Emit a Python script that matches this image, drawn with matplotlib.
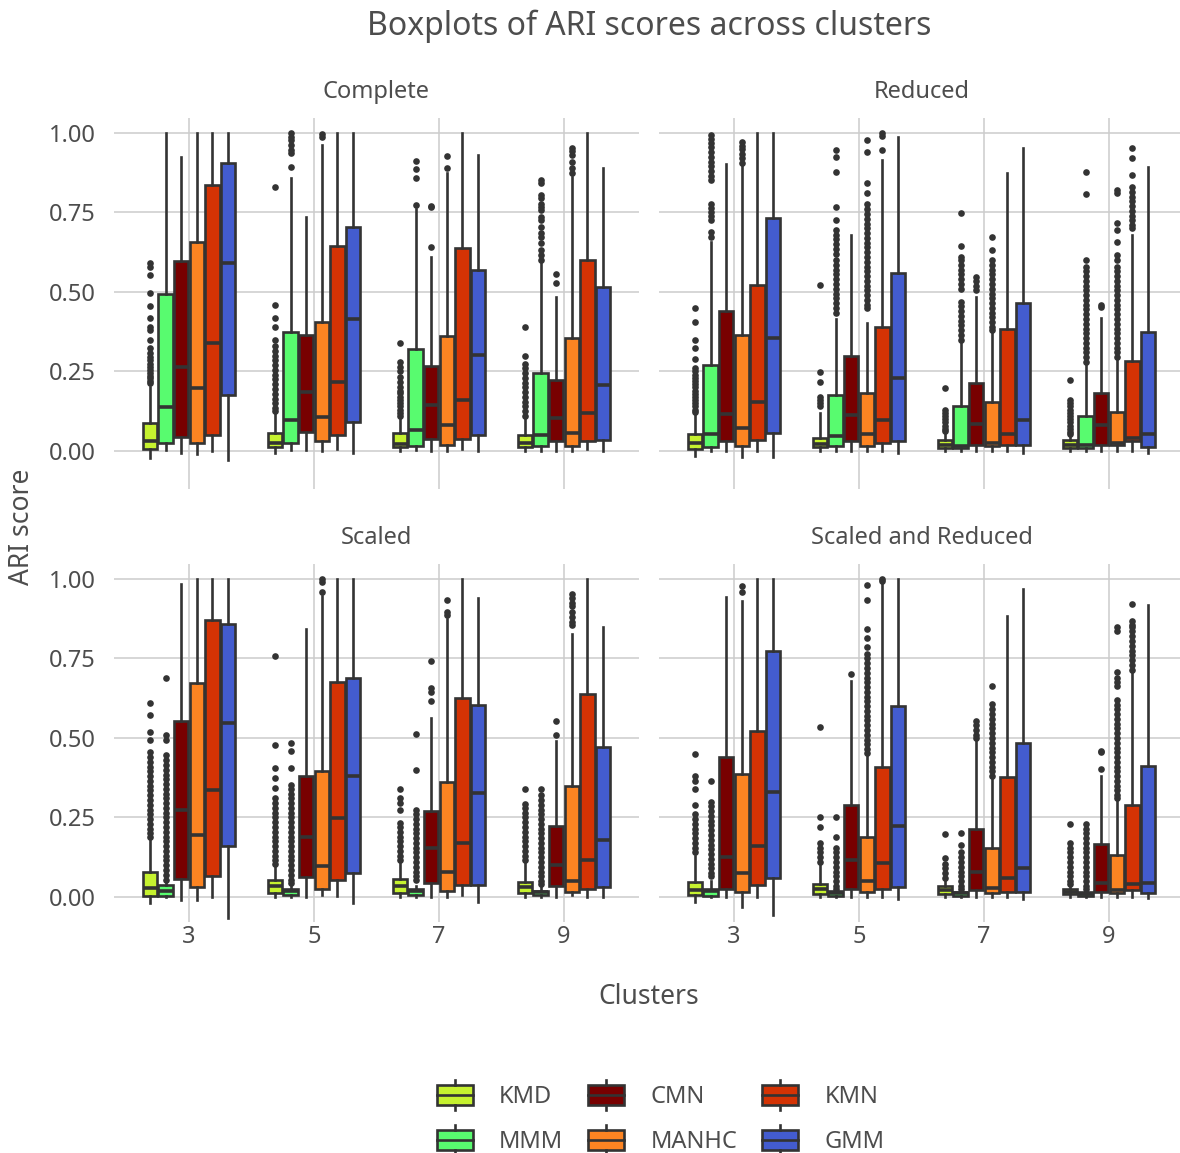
import matplotlib.pyplot as plt
from matplotlib.legend_handler import HandlerBase
from matplotlib.patches import Patch, Rectangle
from matplotlib.lines import Line2D

plt.rcParams["font.family"] = ["Noto Sans", "DejaVu Sans"]

# ==== data ====
clusters = ["3", "5", "7", "9"]
methods = ["KMD", "MMM", "CMN", "MANHC", "KMN", "GMM"]
method_colors = ["#C6F22F", "#58FB6F", "#780000", "#FC8422", "#D43304", "#435CCF"]
panel_titles = ["Complete", "Reduced", "Scaled", "Scaled and Reduced"]

# rows follow `methods`, columns follow `clusters`
complete_q1 = [[0.006, 0.012, 0.012, 0.012], [0.026, 0.026, 0.016, 0.015], [0.043, 0.061, 0.037, 0.030],
               [0.026, 0.030, 0.020, 0.016], [0.050, 0.050, 0.037, 0.030], [0.176, 0.090, 0.050, 0.035]]
complete_med = [[0.031, 0.025, 0.022, 0.025], [0.139, 0.097, 0.066, 0.050], [0.265, 0.187, 0.145, 0.105],
                [0.197, 0.108, 0.082, 0.056], [0.339, 0.218, 0.160, 0.119], [0.592, 0.415, 0.302, 0.208]]
complete_q3 = [[0.087, 0.056, 0.056, 0.050], [0.494, 0.373, 0.321, 0.244], [0.598, 0.366, 0.268, 0.223],
               [0.656, 0.407, 0.363, 0.354], [0.836, 0.643, 0.637, 0.601], [0.907, 0.703, 0.569, 0.517]]
complete_lo = [[-0.021, -0.005, 0.0, 0.0], [0.003, 0.003, 0.003, 0.0], [-0.007, 0.003, 0.0, 0.0],
               [-0.009, 0.0, 0.0, 0.0], [0.0, 0.006, 0.006, 0.006], [-0.028, -0.007, 0.0, 0.0]]
complete_hi = [[0.20, 0.118, 0.10, 0.10], [1.0, 0.857, 0.76, 0.59], [0.925, 0.735, 0.611, 0.485],
               [1.0, 0.962, 0.873, 0.863], [1.0, 1.0, 1.0, 1.0], [1.0, 1.0, 0.931, 0.889]]
complete_fliers = [
    [[0.59, 0.58, 0.553, 0.496, 0.456, 0.417, 0.391, 0.381, 0.349, 0.323, 0.307, 0.296, 0.286, 0.275, 0.265,
      0.255, 0.244, 0.235, 0.229, 0.22, 0.213],
     [0.83, 0.459, 0.419, 0.391, 0.349, 0.33, 0.315, 0.30, 0.285, 0.27, 0.255, 0.24, 0.225, 0.21, 0.195, 0.18,
      0.165, 0.15, 0.135, 0.125],
     [0.339, 0.279, 0.265, 0.25, 0.234, 0.218, 0.202, 0.19, 0.182, 0.17, 0.161, 0.15, 0.14, 0.13, 0.119, 0.11],
     [0.389, 0.298, 0.275, 0.26, 0.245, 0.23, 0.215, 0.2, 0.185, 0.17, 0.155, 0.14, 0.125, 0.11]],
    [[], [0.999, 0.988, 0.978, 0.962, 0.946, 0.936, 0.894], [0.913, 0.887, 0.857, 0.774],
     [0.852, 0.844, 0.805, 0.795, 0.778, 0.768, 0.758, 0.737, 0.726, 0.705, 0.684, 0.674, 0.653, 0.632, 0.616,
      0.601]],
    [[], [], [0.771, 0.766, 0.64], [0.558, 0.527]],
    [[], [0.997, 0.987], [0.928, 0.89], [0.952, 0.942, 0.931, 0.91, 0.889, 0.873]],
    [[], [], [], []],
    [[], [], [], []],
]

reduced_q1 = [[0.005, 0.012, 0.008, 0.008], [0.014, 0.015, 0.008, 0.008], [0.030, 0.030, 0.020, 0.020],
              [0.016, 0.016, 0.016, 0.020], [0.035, 0.026, 0.020, 0.030], [0.056, 0.032, 0.018, 0.011]]
reduced_med = [[0.024, 0.022, 0.020, 0.020], [0.053, 0.048, 0.016, 0.020], [0.116, 0.113, 0.085, 0.081],
               [0.071, 0.054, 0.024, 0.025], [0.155, 0.097, 0.053, 0.042], [0.354, 0.228, 0.097, 0.053]]
reduced_q3 = [[0.053, 0.042, 0.035, 0.033], [0.270, 0.176, 0.143, 0.111], [0.441, 0.299, 0.213, 0.181],
              [0.365, 0.181, 0.155, 0.122], [0.522, 0.391, 0.384, 0.284], [0.734, 0.559, 0.464, 0.374]]
reduced_lo = [[-0.016, 0.0, 0.0, 0.0], [0.0, 0.0, 0.0, 0.0], [0.0, 0.0, 0.0, 0.0],
              [-0.018, 0.0, 0.0, 0.0], [0.0, 0.0, 0.0, 0.0], [-0.018, -0.007, -0.006, -0.006]]
reduced_hi = [[0.119, 0.12, 0.055, 0.048], [0.658, 0.415, 0.34, 0.27], [0.901, 0.679, 0.485, 0.417],
              [0.895, 0.401, 0.37, 0.286], [1.0, 0.915, 0.873, 0.679], [1.0, 0.988, 0.952, 0.894]]
reduced_fliers = [
    [[0.451, 0.406, 0.349, 0.323, 0.289, 0.26, 0.25, 0.24, 0.23, 0.22, 0.21, 0.2, 0.19, 0.18, 0.17, 0.16, 0.15,
      0.14, 0.13, 0.122],
     [0.522, 0.248, 0.216, 0.171, 0.16, 0.15, 0.14],
     [0.197, 0.13, 0.12, 0.11, 0.1, 0.09, 0.08, 0.07, 0.062],
     [0.223, 0.16, 0.15, 0.14, 0.13, 0.12, 0.11, 0.10, 0.09, 0.08, 0.07, 0.06, 0.052]],
    [[0.993, 0.98, 0.968, 0.955, 0.94, 0.925, 0.91, 0.895, 0.88, 0.865, 0.852, 0.778, 0.765, 0.75, 0.738, 0.726,
      0.687, 0.672],
     [0.947, 0.925, 0.878, 0.766, 0.726, 0.695, 0.68, 0.665, 0.65, 0.635, 0.62, 0.6, 0.585, 0.57, 0.555, 0.54,
      0.525, 0.51, 0.495, 0.48, 0.465, 0.45, 0.435],
     [0.747, 0.645, 0.611, 0.6, 0.585, 0.57, 0.555, 0.54, 0.525, 0.51, 0.47, 0.455, 0.44, 0.425, 0.41, 0.395,
      0.38, 0.365, 0.35],
     [0.878, 0.808, 0.6, 0.579, 0.565, 0.55, 0.535, 0.52, 0.505, 0.49, 0.475, 0.46, 0.445, 0.43, 0.415, 0.4,
      0.385, 0.37, 0.355, 0.34, 0.325, 0.31, 0.295, 0.28]],
    [[], [], [0.548, 0.535, 0.52, 0.506], [0.458, 0.452]],
    [[0.973, 0.96, 0.948, 0.935, 0.92, 0.907],
     [0.978, 0.941, 0.843, 0.812, 0.777, 0.76, 0.745, 0.73, 0.715, 0.7, 0.685, 0.67, 0.655, 0.64, 0.625, 0.61,
      0.595, 0.58, 0.565, 0.55, 0.535, 0.52, 0.505, 0.49, 0.475, 0.46, 0.45],
     [0.672, 0.632, 0.6, 0.585, 0.57, 0.555, 0.54, 0.525, 0.51, 0.495, 0.48, 0.465, 0.45, 0.435, 0.42, 0.405,
      0.39, 0.38],
     [0.82, 0.812, 0.716, 0.694, 0.658, 0.617, 0.6, 0.58, 0.565, 0.55, 0.535, 0.52, 0.505, 0.49, 0.475, 0.46,
      0.445, 0.43, 0.415, 0.4, 0.385, 0.37, 0.355, 0.34, 0.325, 0.31, 0.295]],
    [[], [0.999, 0.99, 0.945], [],
     [0.952, 0.92, 0.868, 0.83, 0.815, 0.8, 0.785, 0.77, 0.755, 0.74, 0.725, 0.71, 0.7]],
    [[], [], [], []],
]

scaled_q1 = [[0.004, 0.013, 0.013, 0.013], [0.003, 0.006, 0.006, 0.006], [0.057, 0.062, 0.043, 0.036],
             [0.033, 0.024, 0.020, 0.017], [0.066, 0.054, 0.038, 0.026], [0.159, 0.075, 0.038, 0.033]]
scaled_med = [[0.027, 0.034, 0.035, 0.031], [0.019, 0.019, 0.019, 0.016], [0.274, 0.190, 0.154, 0.101],
              [0.196, 0.098, 0.080, 0.050], [0.335, 0.248, 0.171, 0.117], [0.548, 0.380, 0.327, 0.180]]
scaled_q3 = [[0.080, 0.054, 0.056, 0.046], [0.038, 0.026, 0.026, 0.019], [0.553, 0.382, 0.269, 0.224],
             [0.674, 0.395, 0.362, 0.348], [0.872, 0.676, 0.627, 0.637], [0.858, 0.687, 0.603, 0.471]]
scaled_lo = [[-0.019, 0.0, 0.0, 0.0], [0.0, 0.0, 0.0, 0.0], [-0.009, 0.0, 0.0, 0.0],
             [-0.009, 0.006, 0.0, 0.006], [0.0, 0.003, 0.006, 0.0], [-0.067, -0.019, -0.016, 0.0]]
scaled_hi = [[0.18, 0.10, 0.11, 0.11], [0.045, 0.035, 0.035, 0.03], [0.984, 0.844, 0.564, 0.490],
             [1.0, 0.947, 0.874, 0.826], [1.0, 1.0, 1.0, 1.0], [1.0, 1.0, 0.939, 0.848]]
scaled_fliers = [
    [[0.609, 0.572, 0.52, 0.493, 0.455, 0.44, 0.425, 0.41, 0.395, 0.38, 0.365, 0.35, 0.335, 0.32, 0.305, 0.29,
      0.275, 0.26, 0.245, 0.23, 0.215, 0.2, 0.19],
     [0.758, 0.479, 0.406, 0.374, 0.343, 0.31, 0.295, 0.28, 0.265, 0.25, 0.235, 0.22, 0.205, 0.19, 0.175, 0.16,
      0.145, 0.13, 0.115, 0.105],
     [0.338, 0.312, 0.296, 0.275, 0.233, 0.22, 0.205, 0.19, 0.175, 0.16, 0.145, 0.13, 0.117],
     [0.341, 0.293, 0.28, 0.265, 0.25, 0.235, 0.22, 0.205, 0.19, 0.175, 0.16, 0.145, 0.13, 0.117]],
    [[0.69, 0.51, 0.495, 0.447, 0.43, 0.415, 0.4, 0.385, 0.37, 0.355, 0.34, 0.325, 0.31, 0.295, 0.28, 0.265, 0.25,
      0.235, 0.22, 0.205, 0.19, 0.175, 0.16, 0.145, 0.13, 0.115, 0.1, 0.085, 0.07, 0.055],
     [0.483, 0.458, 0.406, 0.353, 0.34, 0.325, 0.31, 0.295, 0.28, 0.265, 0.25, 0.235, 0.22, 0.205, 0.19, 0.175,
      0.16, 0.145, 0.13, 0.115, 0.1, 0.085, 0.07, 0.055, 0.045],
     [0.511, 0.398, 0.275, 0.26, 0.245, 0.23, 0.215, 0.2, 0.185, 0.17, 0.155, 0.14, 0.125, 0.11, 0.095, 0.08,
      0.065, 0.053],
     [0.341, 0.32, 0.305, 0.29, 0.275, 0.26, 0.245, 0.23, 0.215, 0.2, 0.185, 0.17, 0.155, 0.14, 0.125, 0.11,
      0.095, 0.08, 0.065, 0.05, 0.04]],
    [[], [], [0.742, 0.658, 0.643, 0.616], [0.553, 0.51]],
    [[], [0.999, 0.99, 0.96], [0.935, 0.895, 0.888], [0.953, 0.94, 0.925, 0.915, 0.895, 0.88, 0.865, 0.855]],
    [[], [], [], []],
    [[], [], [], []],
]

screduced_q1 = [[0.006, 0.010, 0.008, 0.008], [0.003, 0.003, 0.003, 0.003], [0.026, 0.026, 0.021, 0.017],
                [0.015, 0.017, 0.013, 0.013], [0.038, 0.026, 0.017, 0.021], [0.059, 0.031, 0.017, 0.013]]
screduced_med = [[0.022, 0.025, 0.022, 0.017], [0.019, 0.011, 0.011, 0.010], [0.127, 0.117, 0.080, 0.045],
                 [0.075, 0.051, 0.027, 0.022], [0.161, 0.106, 0.059, 0.041], [0.329, 0.222, 0.090, 0.043]]
screduced_q3 = [[0.048, 0.041, 0.035, 0.026], [0.026, 0.019, 0.017, 0.017], [0.440, 0.290, 0.215, 0.167],
                [0.387, 0.190, 0.154, 0.132], [0.521, 0.408, 0.378, 0.290], [0.774, 0.600, 0.483, 0.411]]
screduced_lo = [[-0.015, 0.0, 0.0, 0.0], [0.0, 0.0, 0.0, 0.0], [0.0, 0.0, 0.0, 0.0],
                [-0.031, 0.0, 0.0, 0.0], [0.0, 0.0, 0.0, 0.0], [-0.057, -0.005, -0.005, -0.003]]
screduced_hi = [[0.13, 0.10, 0.05, 0.035], [0.05, 0.02, 0.02, 0.02], [0.942, 0.679, 0.495, 0.38],
                [0.932, 0.443, 0.37, 0.306], [1.0, 0.987, 0.884, 0.706], [1.0, 1.0, 0.968, 0.918]]
screduced_fliers = [
    [[0.451, 0.38, 0.366, 0.34, 0.29, 0.26, 0.245, 0.23, 0.215, 0.2, 0.185, 0.17, 0.155, 0.14],
     [0.534, 0.25, 0.22, 0.17, 0.155, 0.14, 0.125, 0.11],
     [0.198, 0.122, 0.105, 0.09, 0.075, 0.06],
     [0.23, 0.17, 0.155, 0.14, 0.125, 0.11, 0.095, 0.08, 0.065, 0.05, 0.04]],
    [[0.366, 0.3, 0.285, 0.27, 0.255, 0.24, 0.225, 0.21, 0.195, 0.18, 0.165, 0.15, 0.135, 0.12, 0.105, 0.09,
      0.075, 0.065],
     [0.251, 0.19, 0.153, 0.14, 0.125, 0.11, 0.095, 0.08, 0.065, 0.05, 0.035, 0.025],
     [0.2, 0.165, 0.14, 0.125, 0.11, 0.095, 0.08, 0.065, 0.05, 0.035, 0.025],
     [0.23, 0.215, 0.2, 0.185, 0.17, 0.155, 0.14, 0.125, 0.11, 0.095, 0.08, 0.065, 0.05, 0.035, 0.025]],
    [[], [0.702], [0.553, 0.54, 0.525, 0.51, 0.5], [0.46, 0.455, 0.401]],
    [[0.978, 0.96],
     [0.981, 0.935, 0.842, 0.815, 0.785, 0.765, 0.75, 0.735, 0.72, 0.705, 0.69, 0.675, 0.66, 0.645, 0.63, 0.615,
      0.6, 0.585, 0.57, 0.555, 0.54, 0.525, 0.51, 0.495, 0.48, 0.465, 0.452],
     [0.664, 0.606, 0.59, 0.575, 0.56, 0.545, 0.53, 0.515, 0.5, 0.485, 0.47, 0.455, 0.44, 0.425, 0.41, 0.395,
      0.38],
     [0.85, 0.835, 0.707, 0.69, 0.675, 0.662, 0.62, 0.605, 0.59, 0.575, 0.56, 0.545, 0.53, 0.515, 0.5, 0.485,
      0.47, 0.455, 0.44, 0.425, 0.41, 0.395, 0.38, 0.365, 0.35, 0.335, 0.32, 0.31]],
    [[], [0.999, 0.995], [],
     [0.921, 0.868, 0.855, 0.85, 0.835, 0.82, 0.805, 0.79, 0.775, 0.76, 0.745, 0.73, 0.715]],
    [[], [], [], []],
]

# ==== style ====
EDGE = "#333333"
TEXT = "#4D4D4D"
GRID = "#CCCCCC"
W, H = 1180, 1153
Y_TOP = 1.047
LW = 1.9

panels = [
    (complete_q1, complete_med, complete_q3, complete_lo, complete_hi, complete_fliers),
    (reduced_q1, reduced_med, reduced_q3, reduced_lo, reduced_hi, reduced_fliers),
    (scaled_q1, scaled_med, scaled_q3, scaled_lo, scaled_hi, scaled_fliers),
    (screduced_q1, screduced_med, screduced_q3, screduced_lo, screduced_hi, screduced_fliers),
]


def draw_panel(ax, q1, med, q3, lo, hi, fliers, title, y_bottom):
    n = len(methods)
    for m, color in enumerate(method_colors):
        stats = [
            {"q1": q1[m][c], "med": med[m][c], "q3": q3[m][c],
             "whislo": lo[m][c], "whishi": hi[m][c], "fliers": fliers[m][c]}
            for c in range(len(clusters))
        ]
        pos = [c + (m - (n - 1) / 2) * 0.125 for c in range(len(clusters))]
        ax.bxp(
            stats, positions=pos, widths=0.114, patch_artist=True, showcaps=False, manage_ticks=False,
            boxprops=dict(facecolor=color, edgecolor=EDGE, linewidth=LW),
            medianprops=dict(color=EDGE, linewidth=2.6, solid_capstyle="butt"),
            whiskerprops=dict(color=EDGE, linewidth=LW),
            flierprops=dict(marker="o", markerfacecolor=EDGE, markeredgecolor="none", markersize=4.8),
        )

    ax.set_xlim(-0.6, 3.6)
    ax.set_ylim(y_bottom, Y_TOP)
    ax.set_xticks(range(len(clusters)))
    ax.set_xticklabels(clusters)
    ax.set_yticks([0, 0.25, 0.5, 0.75, 1.0])
    ax.set_yticklabels(["0.00", "0.25", "0.50", "0.75", "1.00"])
    ax.grid(True, color=GRID, linewidth=1.1)
    ax.set_axisbelow(True)
    for s in ax.spines.values():
        s.set_visible(False)
    ax.tick_params(length=0, labelsize=17, labelcolor=TEXT)
    ax.tick_params(axis="y", pad=13)
    ax.tick_params(axis="x", pad=2)
    ax.annotate(title, xy=(0.5, 1), xycoords="axes fraction", xytext=(0, 19), textcoords="offset points",
                ha="center", va="center", fontsize=17, color=TEXT)


class BoxKey(HandlerBase):
    def create_artists(self, legend, orig_handle, xdescent, ydescent, width, height, fontsize, trans):
        x0, y0 = -xdescent, -ydescent
        cx = x0 + width / 2
        box = Rectangle((x0, y0 + 0.175 * height), width, 0.65 * height,
                        facecolor=orig_handle.get_facecolor(), edgecolor=EDGE, linewidth=LW, transform=trans)
        mid = Line2D([x0, x0 + width], [y0 + 0.5 * height] * 2, color=EDGE, linewidth=LW, transform=trans)
        low = Line2D([cx, cx], [y0, y0 + 0.175 * height], color=EDGE, linewidth=LW, transform=trans)
        top = Line2D([cx, cx], [y0 + 0.825 * height, y0 + height], color=EDGE, linewidth=LW, transform=trans)
        return [box, mid, low, top]


fig = plt.figure(figsize=(W / 100, H / 100), dpi=100)

ax_w = 525 / W
lefts = [114 / W, 659 / W]
# panel rows in pixels: (top, bottom, pixel row of y = 0)
rows_px = [(118, 489, 451), (564, 922, 897)]
px_per_unit = 318

for k, (data, title) in enumerate(zip(panels, panel_titles)):
    row, col = divmod(k, 2)
    top_px, bot_px, zero_px = rows_px[row]
    ax = fig.add_axes([lefts[col], 1 - bot_px / H, ax_w, (bot_px - top_px) / H])
    draw_panel(ax, *data, title, -(bot_px - zero_px) / px_per_unit)
    if col == 1:
        ax.tick_params(axis="y", labelleft=False)
    if row == 0:
        ax.tick_params(axis="x", labelbottom=False)

fig.text(649 / W, 1 - 26 / H, "Boxplots of ARI scores across clusters", ha="center", va="center",
         fontsize=23, color=TEXT)
fig.text(649 / W, 1 - 997 / H, "Clusters", ha="center", va="center", fontsize=19, color=TEXT)
fig.text(22 / W, 1 - 527 / H, "ARI score", ha="center", va="center", rotation=90, fontsize=19, color=TEXT)

handles = [Patch(facecolor=c, edgecolor=EDGE, label=m) for m, c in zip(methods, method_colors)]
fig.legend(
    handles=handles, ncol=3, loc="upper left", bbox_to_anchor=(437 / W, 1 - 1080 / H),
    frameon=False, fontsize=17, labelcolor=TEXT, borderpad=0, borderaxespad=0,
    handlelength=1.53, handleheight=1.57, handletextpad=1.1, labelspacing=0.64, columnspacing=1.06,
    handler_map={Patch: BoxKey()},
)

fig.savefig("out.png", dpi=100)
plt.close(fig)
